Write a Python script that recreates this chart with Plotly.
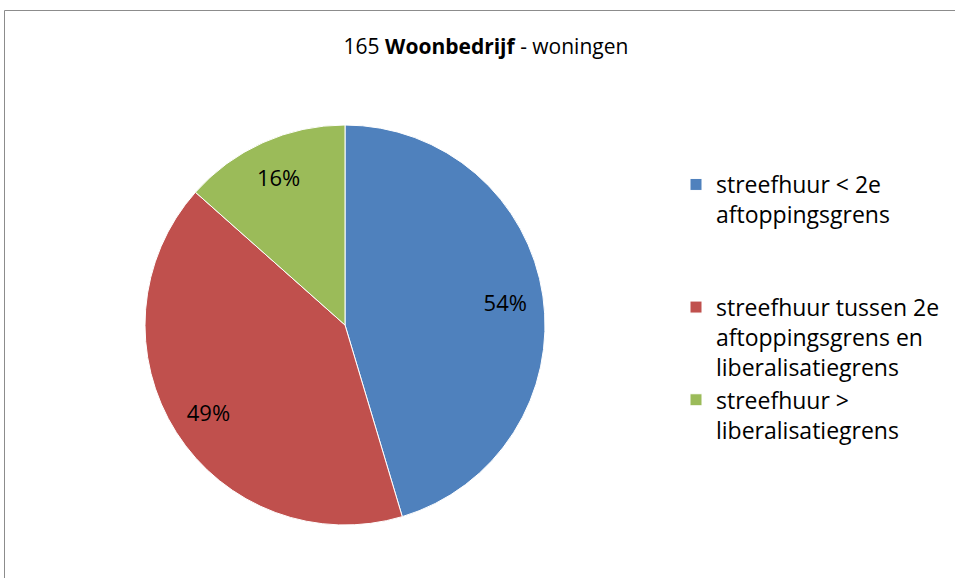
import plotly.graph_objects as go

# --- data ---
labels = [
    "streefhuur < 2e<br>aftoppingsgrens<br> <br> ",
    "streefhuur tussen 2e<br>aftoppingsgrens en<br>liberalisatiegrens",
    "streefhuur ><br>liberalisatiegrens",
]
values = [54, 49, 16]
colors = ["#4F81BD", "#C0504D", "#9BBB59"]

W, H = 955, 578
FONT = "Open Sans"


def px(x):
    return x / W


def py(y):
    return 1 - y / H


dom = dict(x=[px(145), px(545)], y=[py(525), py(125)])

fig = go.Figure()
fig.add_trace(go.Pie(
    labels=labels,
    values=values,
    sort=False,
    direction="clockwise",
    rotation=0,
    marker=dict(colors=colors, line=dict(color="white", width=1)),
    textinfo="none",
    domain=dom,
))
# transparent ring on top only to carry the data labels further out (like Excel's best fit)
fig.add_trace(go.Pie(
    labels=labels,
    values=values,
    sort=False,
    direction="clockwise",
    rotation=0,
    hole=0.62,
    marker=dict(colors=["rgba(0,0,0,0)"] * len(values), line=dict(width=0)),
    texttemplate="%{value}%",
    textposition="inside",
    insidetextorientation="horizontal",
    textfont=dict(size=22, color="black", family=FONT),
    showlegend=False,
    hoverinfo="skip",
    domain=dom,
))

fig.update_layout(
    width=W, height=H,
    margin=dict(l=0, r=0, t=0, b=0),
    paper_bgcolor="white",
    font=dict(family=FONT, color="black"),
    title=dict(text="165 <b>Woonbedrijf</b> - woningen", x=px(486), xanchor="center",
               y=py(47), yanchor="middle", font=dict(size=21)),
    legend=dict(x=px(676), y=py(163), xanchor="left", yanchor="top",
                font=dict(size=23), valign="top", tracegroupgap=0),
    shapes=[
        dict(type="line", xref="paper", yref="paper", x0=px(4.5), x1=1.02, y0=py(10.5), y1=py(10.5),
             line=dict(color="#8c8c8c", width=1)),
        dict(type="line", xref="paper", yref="paper", x0=px(4.5), x1=px(4.5), y0=-0.02, y1=py(10.5),
             line=dict(color="#8c8c8c", width=1)),
    ],
)

fig.write_html("out.html", config={"displayModeBar": False},
               post_script="document.body.style.margin='0';")
